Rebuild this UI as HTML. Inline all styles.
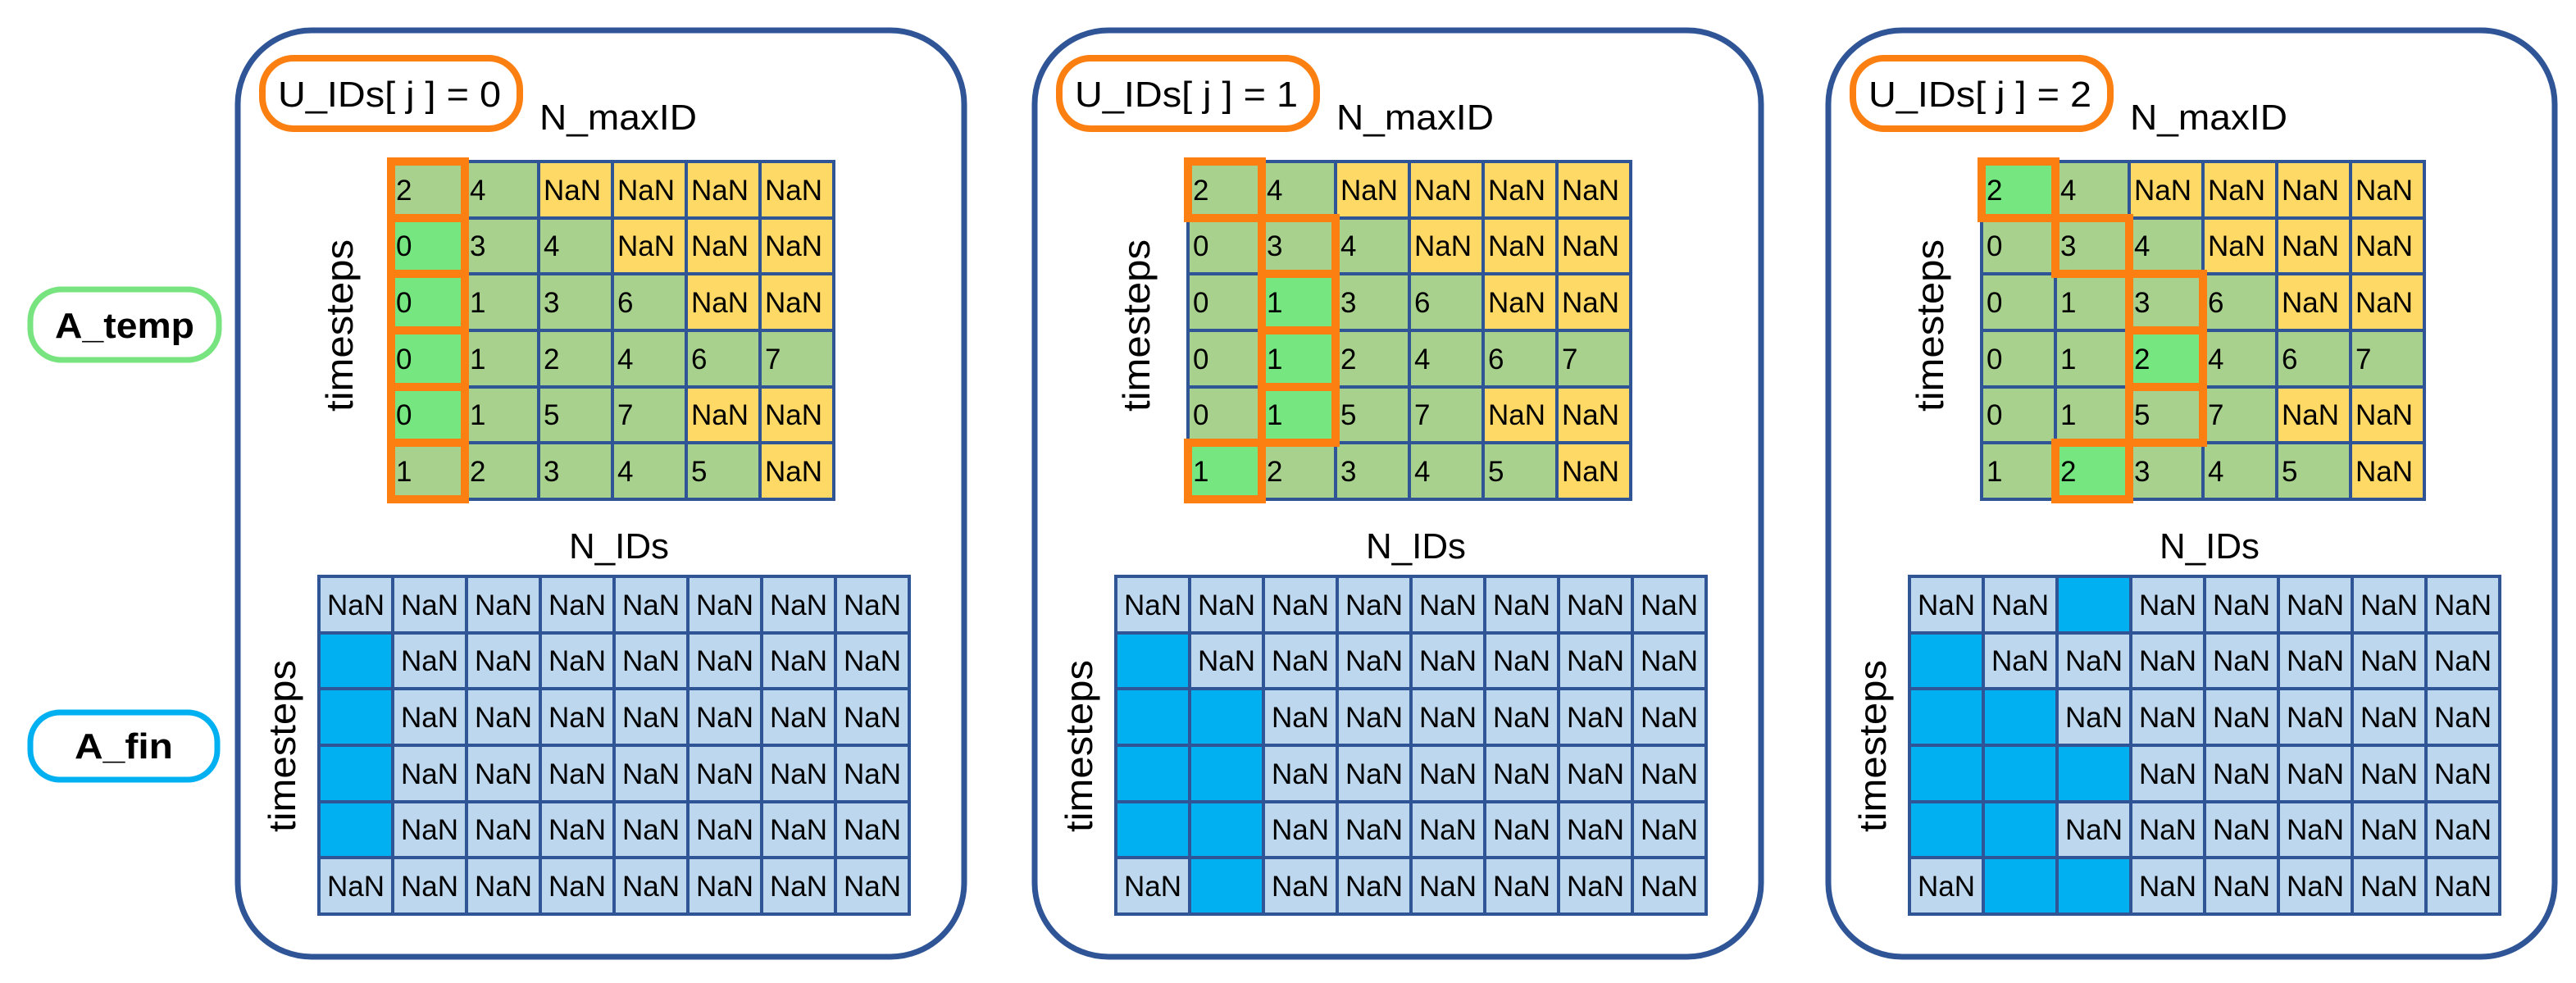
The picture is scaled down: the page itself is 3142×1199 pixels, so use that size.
<!DOCTYPE html>
<html><head><meta charset="utf-8"><style>
html,body{margin:0;padding:0;background:#fff;}
svg{display:block;}
text{font-family:"Liberation Sans",sans-serif;fill:#000;}
.c{font-size:35px;}
.b{font-size:35px;text-anchor:middle;}
.l{font-size:44px;}
</style></head><body>
<svg width="3142" height="1199" viewBox="0 0 3142 1199" xmlns="http://www.w3.org/2000/svg">
<!-- side labels -->
<rect x="37" y="353" width="230" height="86" rx="38" fill="#fff" stroke="#77E47F" stroke-width="7"/>
<text x="152" y="412" class="l" font-weight="bold" text-anchor="middle" textLength="170" lengthAdjust="spacingAndGlyphs">A_temp</text>
<rect x="37" y="869" width="228" height="82" rx="36" fill="#fff" stroke="#00B0F0" stroke-width="7"/>
<text x="151" y="925" class="l" font-weight="bold" text-anchor="middle" textLength="120" lengthAdjust="spacingAndGlyphs">A_fin</text>

<!-- ================= PANEL 1 ================= -->
<g transform="translate(0,0)">
<rect x="290" y="37" width="886" height="1130" rx="90" fill="#fff" stroke="#2F5597" stroke-width="7"/>
<rect x="320" y="71" width="314" height="86" rx="38" fill="#fff" stroke="#FB7F11" stroke-width="8"/>
<text x="339" y="130" class="l" textLength="272" lengthAdjust="spacingAndGlyphs">U_IDs[ j ] = 0</text>
<text x="658" y="158" class="l" textLength="192" lengthAdjust="spacingAndGlyphs">N_maxID</text>
<text transform="translate(430,397) rotate(-90)" text-anchor="middle" font-size="46" textLength="210" lengthAdjust="spacingAndGlyphs">timesteps</text>
<!-- top grid -->
<rect x="477" y="197" width="540" height="412" fill="#A9D18E"/>
<rect x="657" y="197" width="360" height="69" fill="#FFD966"/>
<rect x="747" y="266" width="270" height="68" fill="#FFD966"/>
<rect x="837" y="334" width="180" height="69" fill="#FFD966"/>
<rect x="837" y="472" width="180" height="68" fill="#FFD966"/>
<rect x="927" y="540" width="90" height="69" fill="#FFD966"/>
<rect x="477" y="266" width="90" height="206" fill="#75E680"/>
<rect x="477" y="472" width="90" height="68" fill="#75E680"/>
<path d="M477 197H1017V609H477Z M567 197V609 M657 197V609 M747 197V609 M837 197V609 M927 197V609 M477 266H1017 M477 334H1017 M477 403H1017 M477 472H1017 M477 540H1017" fill="none" stroke="#2F5597" stroke-width="4"/>
<g fill="none" stroke="#FB7F11" stroke-width="10">
<rect x="477" y="197" width="90" height="69"/><rect x="477" y="266" width="90" height="68"/><rect x="477" y="334" width="90" height="69"/><rect x="477" y="403" width="90" height="69"/><rect x="477" y="472" width="90" height="68"/><rect x="477" y="540" width="90" height="69"/>
</g>
<g class="c">
<text x="483" y="244">2</text><text x="573" y="244">4</text><text x="663" y="244">NaN</text><text x="753" y="244">NaN</text><text x="843" y="244">NaN</text><text x="933" y="244">NaN</text>
<text x="483" y="312">0</text><text x="573" y="312">3</text><text x="663" y="312">4</text><text x="753" y="312">NaN</text><text x="843" y="312">NaN</text><text x="933" y="312">NaN</text>
<text x="483" y="381">0</text><text x="573" y="381">1</text><text x="663" y="381">3</text><text x="753" y="381">6</text><text x="843" y="381">NaN</text><text x="933" y="381">NaN</text>
<text x="483" y="450">0</text><text x="573" y="450">1</text><text x="663" y="450">2</text><text x="753" y="450">4</text><text x="843" y="450">6</text><text x="933" y="450">7</text>
<text x="483" y="518">0</text><text x="573" y="518">1</text><text x="663" y="518">5</text><text x="753" y="518">7</text><text x="843" y="518">NaN</text><text x="933" y="518">NaN</text>
<text x="483" y="587">1</text><text x="573" y="587">2</text><text x="663" y="587">3</text><text x="753" y="587">4</text><text x="843" y="587">5</text><text x="933" y="587">NaN</text>
</g>
<text x="755" y="681" class="l" text-anchor="middle" textLength="122" lengthAdjust="spacingAndGlyphs">N_IDs</text>
<text transform="translate(360,910) rotate(-90)" text-anchor="middle" font-size="46" textLength="210" lengthAdjust="spacingAndGlyphs">timesteps</text>
<!-- bottom grid -->
<rect x="389" y="703" width="720" height="412" fill="#BDD7EE"/>
<rect x="389" y="772" width="90" height="274" fill="#00B0F0"/>
<path d="M389 703H1109V1115H389Z M479 703V1115 M569 703V1115 M659 703V1115 M749 703V1115 M839 703V1115 M929 703V1115 M1019 703V1115 M389 772H1109 M389 840H1109 M389 909H1109 M389 978H1109 M389 1046H1109" fill="none" stroke="#2F5597" stroke-width="4"/>
<g class="b">
<text x="434" y="750">NaN</text><text x="524" y="750">NaN</text><text x="614" y="750">NaN</text><text x="704" y="750">NaN</text><text x="794" y="750">NaN</text><text x="884" y="750">NaN</text><text x="974" y="750">NaN</text><text x="1064" y="750">NaN</text>
<text x="524" y="818">NaN</text><text x="614" y="818">NaN</text><text x="704" y="818">NaN</text><text x="794" y="818">NaN</text><text x="884" y="818">NaN</text><text x="974" y="818">NaN</text><text x="1064" y="818">NaN</text>
<text x="524" y="887">NaN</text><text x="614" y="887">NaN</text><text x="704" y="887">NaN</text><text x="794" y="887">NaN</text><text x="884" y="887">NaN</text><text x="974" y="887">NaN</text><text x="1064" y="887">NaN</text>
<text x="524" y="956">NaN</text><text x="614" y="956">NaN</text><text x="704" y="956">NaN</text><text x="794" y="956">NaN</text><text x="884" y="956">NaN</text><text x="974" y="956">NaN</text><text x="1064" y="956">NaN</text>
<text x="524" y="1024">NaN</text><text x="614" y="1024">NaN</text><text x="704" y="1024">NaN</text><text x="794" y="1024">NaN</text><text x="884" y="1024">NaN</text><text x="974" y="1024">NaN</text><text x="1064" y="1024">NaN</text>
<text x="434" y="1093">NaN</text><text x="524" y="1093">NaN</text><text x="614" y="1093">NaN</text><text x="704" y="1093">NaN</text><text x="794" y="1093">NaN</text><text x="884" y="1093">NaN</text><text x="974" y="1093">NaN</text><text x="1064" y="1093">NaN</text>
</g>
</g>

<!-- ================= PANEL 2 ================= -->
<g transform="translate(972,0)">
<rect x="290" y="37" width="886" height="1130" rx="90" fill="#fff" stroke="#2F5597" stroke-width="7"/>
<rect x="320" y="71" width="314" height="86" rx="38" fill="#fff" stroke="#FB7F11" stroke-width="8"/>
<text x="339" y="130" class="l" textLength="272" lengthAdjust="spacingAndGlyphs">U_IDs[ j ] = 1</text>
<text x="658" y="158" class="l" textLength="192" lengthAdjust="spacingAndGlyphs">N_maxID</text>
<text transform="translate(430,397) rotate(-90)" text-anchor="middle" font-size="46" textLength="210" lengthAdjust="spacingAndGlyphs">timesteps</text>
<rect x="477" y="197" width="540" height="412" fill="#A9D18E"/>
<rect x="657" y="197" width="360" height="69" fill="#FFD966"/>
<rect x="747" y="266" width="270" height="68" fill="#FFD966"/>
<rect x="837" y="334" width="180" height="69" fill="#FFD966"/>
<rect x="837" y="472" width="180" height="68" fill="#FFD966"/>
<rect x="927" y="540" width="90" height="69" fill="#FFD966"/>
<rect x="567" y="334" width="90" height="206" fill="#75E680"/>
<rect x="477" y="540" width="90" height="69" fill="#75E680"/>
<path d="M477 197H1017V609H477Z M567 197V609 M657 197V609 M747 197V609 M837 197V609 M927 197V609 M477 266H1017 M477 334H1017 M477 403H1017 M477 472H1017 M477 540H1017" fill="none" stroke="#2F5597" stroke-width="4"/>
<g fill="none" stroke="#FB7F11" stroke-width="10">
<rect x="477" y="197" width="90" height="69"/><rect x="567" y="266" width="90" height="68"/><rect x="567" y="334" width="90" height="69"/><rect x="567" y="403" width="90" height="69"/><rect x="567" y="472" width="90" height="68"/><rect x="477" y="540" width="90" height="69"/>
</g>
<g class="c">
<text x="483" y="244">2</text><text x="573" y="244">4</text><text x="663" y="244">NaN</text><text x="753" y="244">NaN</text><text x="843" y="244">NaN</text><text x="933" y="244">NaN</text>
<text x="483" y="312">0</text><text x="573" y="312">3</text><text x="663" y="312">4</text><text x="753" y="312">NaN</text><text x="843" y="312">NaN</text><text x="933" y="312">NaN</text>
<text x="483" y="381">0</text><text x="573" y="381">1</text><text x="663" y="381">3</text><text x="753" y="381">6</text><text x="843" y="381">NaN</text><text x="933" y="381">NaN</text>
<text x="483" y="450">0</text><text x="573" y="450">1</text><text x="663" y="450">2</text><text x="753" y="450">4</text><text x="843" y="450">6</text><text x="933" y="450">7</text>
<text x="483" y="518">0</text><text x="573" y="518">1</text><text x="663" y="518">5</text><text x="753" y="518">7</text><text x="843" y="518">NaN</text><text x="933" y="518">NaN</text>
<text x="483" y="587">1</text><text x="573" y="587">2</text><text x="663" y="587">3</text><text x="753" y="587">4</text><text x="843" y="587">5</text><text x="933" y="587">NaN</text>
</g>
<text x="755" y="681" class="l" text-anchor="middle" textLength="122" lengthAdjust="spacingAndGlyphs">N_IDs</text>
<text transform="translate(360,910) rotate(-90)" text-anchor="middle" font-size="46" textLength="210" lengthAdjust="spacingAndGlyphs">timesteps</text>
<rect x="389" y="703" width="720" height="412" fill="#BDD7EE"/>
<rect x="389" y="772" width="90" height="274" fill="#00B0F0"/>
<rect x="479" y="840" width="90" height="275" fill="#00B0F0"/>
<path d="M389 703H1109V1115H389Z M479 703V1115 M569 703V1115 M659 703V1115 M749 703V1115 M839 703V1115 M929 703V1115 M1019 703V1115 M389 772H1109 M389 840H1109 M389 909H1109 M389 978H1109 M389 1046H1109" fill="none" stroke="#2F5597" stroke-width="4"/>
<g class="b">
<text x="434" y="750">NaN</text><text x="524" y="750">NaN</text><text x="614" y="750">NaN</text><text x="704" y="750">NaN</text><text x="794" y="750">NaN</text><text x="884" y="750">NaN</text><text x="974" y="750">NaN</text><text x="1064" y="750">NaN</text>
<text x="524" y="818">NaN</text><text x="614" y="818">NaN</text><text x="704" y="818">NaN</text><text x="794" y="818">NaN</text><text x="884" y="818">NaN</text><text x="974" y="818">NaN</text><text x="1064" y="818">NaN</text>
<text x="614" y="887">NaN</text><text x="704" y="887">NaN</text><text x="794" y="887">NaN</text><text x="884" y="887">NaN</text><text x="974" y="887">NaN</text><text x="1064" y="887">NaN</text>
<text x="614" y="956">NaN</text><text x="704" y="956">NaN</text><text x="794" y="956">NaN</text><text x="884" y="956">NaN</text><text x="974" y="956">NaN</text><text x="1064" y="956">NaN</text>
<text x="614" y="1024">NaN</text><text x="704" y="1024">NaN</text><text x="794" y="1024">NaN</text><text x="884" y="1024">NaN</text><text x="974" y="1024">NaN</text><text x="1064" y="1024">NaN</text>
<text x="434" y="1093">NaN</text><text x="614" y="1093">NaN</text><text x="704" y="1093">NaN</text><text x="794" y="1093">NaN</text><text x="884" y="1093">NaN</text><text x="974" y="1093">NaN</text><text x="1064" y="1093">NaN</text>
</g>
</g>

<!-- ================= PANEL 3 ================= -->
<g transform="translate(1940,0)">
<rect x="290" y="37" width="886" height="1130" rx="90" fill="#fff" stroke="#2F5597" stroke-width="7"/>
<rect x="320" y="71" width="314" height="86" rx="38" fill="#fff" stroke="#FB7F11" stroke-width="8"/>
<text x="339" y="130" class="l" textLength="272" lengthAdjust="spacingAndGlyphs">U_IDs[ j ] = 2</text>
<text x="658" y="158" class="l" textLength="192" lengthAdjust="spacingAndGlyphs">N_maxID</text>
<text transform="translate(430,397) rotate(-90)" text-anchor="middle" font-size="46" textLength="210" lengthAdjust="spacingAndGlyphs">timesteps</text>
<rect x="477" y="197" width="540" height="412" fill="#A9D18E"/>
<rect x="657" y="197" width="360" height="69" fill="#FFD966"/>
<rect x="747" y="266" width="270" height="68" fill="#FFD966"/>
<rect x="837" y="334" width="180" height="69" fill="#FFD966"/>
<rect x="837" y="472" width="180" height="68" fill="#FFD966"/>
<rect x="927" y="540" width="90" height="69" fill="#FFD966"/>
<rect x="477" y="197" width="90" height="69" fill="#75E680"/>
<rect x="657" y="403" width="90" height="69" fill="#75E680"/>
<rect x="567" y="540" width="90" height="69" fill="#75E680"/>
<path d="M477 197H1017V609H477Z M567 197V609 M657 197V609 M747 197V609 M837 197V609 M927 197V609 M477 266H1017 M477 334H1017 M477 403H1017 M477 472H1017 M477 540H1017" fill="none" stroke="#2F5597" stroke-width="4"/>
<g fill="none" stroke="#FB7F11" stroke-width="10">
<rect x="477" y="197" width="90" height="69"/><rect x="567" y="266" width="90" height="68"/><rect x="657" y="334" width="90" height="69"/><rect x="657" y="403" width="90" height="69"/><rect x="657" y="472" width="90" height="68"/><rect x="567" y="540" width="90" height="69"/>
</g>
<g class="c">
<text x="483" y="244">2</text><text x="573" y="244">4</text><text x="663" y="244">NaN</text><text x="753" y="244">NaN</text><text x="843" y="244">NaN</text><text x="933" y="244">NaN</text>
<text x="483" y="312">0</text><text x="573" y="312">3</text><text x="663" y="312">4</text><text x="753" y="312">NaN</text><text x="843" y="312">NaN</text><text x="933" y="312">NaN</text>
<text x="483" y="381">0</text><text x="573" y="381">1</text><text x="663" y="381">3</text><text x="753" y="381">6</text><text x="843" y="381">NaN</text><text x="933" y="381">NaN</text>
<text x="483" y="450">0</text><text x="573" y="450">1</text><text x="663" y="450">2</text><text x="753" y="450">4</text><text x="843" y="450">6</text><text x="933" y="450">7</text>
<text x="483" y="518">0</text><text x="573" y="518">1</text><text x="663" y="518">5</text><text x="753" y="518">7</text><text x="843" y="518">NaN</text><text x="933" y="518">NaN</text>
<text x="483" y="587">1</text><text x="573" y="587">2</text><text x="663" y="587">3</text><text x="753" y="587">4</text><text x="843" y="587">5</text><text x="933" y="587">NaN</text>
</g>
<text x="755" y="681" class="l" text-anchor="middle" textLength="122" lengthAdjust="spacingAndGlyphs">N_IDs</text>
<text transform="translate(360,910) rotate(-90)" text-anchor="middle" font-size="46" textLength="210" lengthAdjust="spacingAndGlyphs">timesteps</text>
<rect x="389" y="703" width="720" height="412" fill="#BDD7EE"/>
<rect x="569" y="703" width="90" height="69" fill="#00B0F0"/>
<rect x="389" y="772" width="90" height="274" fill="#00B0F0"/>
<rect x="479" y="840" width="90" height="275" fill="#00B0F0"/>
<rect x="569" y="909" width="90" height="69" fill="#00B0F0"/>
<rect x="569" y="1046" width="90" height="69" fill="#00B0F0"/>
<path d="M389 703H1109V1115H389Z M479 703V1115 M569 703V1115 M659 703V1115 M749 703V1115 M839 703V1115 M929 703V1115 M1019 703V1115 M389 772H1109 M389 840H1109 M389 909H1109 M389 978H1109 M389 1046H1109" fill="none" stroke="#2F5597" stroke-width="4"/>
<g class="b">
<text x="434" y="750">NaN</text><text x="524" y="750">NaN</text><text x="704" y="750">NaN</text><text x="794" y="750">NaN</text><text x="884" y="750">NaN</text><text x="974" y="750">NaN</text><text x="1064" y="750">NaN</text>
<text x="524" y="818">NaN</text><text x="614" y="818">NaN</text><text x="704" y="818">NaN</text><text x="794" y="818">NaN</text><text x="884" y="818">NaN</text><text x="974" y="818">NaN</text><text x="1064" y="818">NaN</text>
<text x="614" y="887">NaN</text><text x="704" y="887">NaN</text><text x="794" y="887">NaN</text><text x="884" y="887">NaN</text><text x="974" y="887">NaN</text><text x="1064" y="887">NaN</text>
<text x="704" y="956">NaN</text><text x="794" y="956">NaN</text><text x="884" y="956">NaN</text><text x="974" y="956">NaN</text><text x="1064" y="956">NaN</text>
<text x="614" y="1024">NaN</text><text x="704" y="1024">NaN</text><text x="794" y="1024">NaN</text><text x="884" y="1024">NaN</text><text x="974" y="1024">NaN</text><text x="1064" y="1024">NaN</text>
<text x="434" y="1093">NaN</text><text x="704" y="1093">NaN</text><text x="794" y="1093">NaN</text><text x="884" y="1093">NaN</text><text x="974" y="1093">NaN</text><text x="1064" y="1093">NaN</text>
</g>
</g>
</svg>
</body></html>
